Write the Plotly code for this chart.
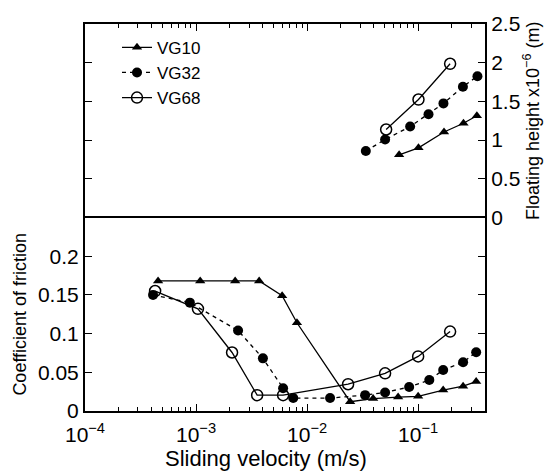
import plotly.graph_objects as go

# ---- data ----
series_names = ["VG10", "VG32", "VG68"]

# Coefficient of friction vs sliding velocity
vg10_fric_v = [4.55e-4, 1.09e-3, 2.25e-3, 3.7e-3, 5.96e-3, 8.1e-3, 0.0244, 0.0393, 0.066, 0.1, 0.168, 0.254, 0.333]
vg10_fric = [0.168, 0.168, 0.168, 0.168, 0.149, 0.114, 0.012, 0.016, 0.018, 0.019, 0.027, 0.032, 0.038]
vg32_fric_v = [4.1e-4, 8.8e-4, 2.39e-3, 4.0e-3, 6.08e-3, 7.5e-3, 0.0161, 0.0333, 0.0504, 0.083, 0.126, 0.168, 0.254, 0.333]
vg32_fric = [0.150, 0.140, 0.104, 0.068, 0.0295, 0.0167, 0.0167, 0.0205, 0.024, 0.031, 0.040, 0.053, 0.063, 0.076]
vg68_fric_v = [4.28e-4, 1.04e-3, 2.11e-3, 3.55e-3, 6.08e-3, 0.0234, 0.0504, 0.1, 0.194]
vg68_fric = [0.155, 0.132, 0.0756, 0.0205, 0.0205, 0.0346, 0.0487, 0.0705, 0.1026]

# Floating height (x1e-6 m) vs sliding velocity
vg10_h_v = [0.0674, 0.1007, 0.171, 0.256, 0.338]
vg10_h = [0.81, 0.90, 1.105, 1.218, 1.314]
vg32_h_v = [0.0338, 0.0504, 0.0847, 0.124, 0.169, 0.253, 0.342]
vg32_h = [0.86, 1.007, 1.175, 1.335, 1.474, 1.69, 1.826]
vg68_h_v = [0.0515, 0.1007, 0.194]
vg68_h = [1.137, 1.524, 1.986]

x_tickvals = [1e-4, 1e-3, 1e-2, 1e-1]
x_ticktext = ["10<sup>\u22124</sup>", "10<sup>\u22123</sup>", "10<sup>\u22122</sup>", "10<sup>\u22121</sup>"]
x_minor = [m * 10 ** e for e in (-4, -3, -2, -1) for m in range(2, 10)]
fric_ticks = [0, 0.05, 0.1, 0.15, 0.2]
fric_ticktext = ["0", "0.05", "0.1", "0.15", "0.2"]
h_ticks = [0, 0.5, 1, 1.5, 2, 2.5]
h_ticktext = ["0", "0.5", "1", "1.5", "2", "2.5"]

FONT = "Liberation Sans, Arial, Helvetica, sans-serif"
TICKSIZE = 21

styles = {
    "VG10": dict(marker=dict(symbol="triangle-up", size=9, color="black"),
                 line=dict(color="black", width=1.3)),
    "VG32": dict(marker=dict(symbol="circle", size=10, color="black"),
                 line=dict(color="black", width=1.3, dash="4px,4px")),
    "VG68": dict(marker=dict(symbol="circle-open", size=11, color="black", line=dict(width=1.5)),
                 line=dict(color="black", width=1.3)),
}

fric_data = {"VG10": (vg10_fric_v, vg10_fric), "VG32": (vg32_fric_v, vg32_fric), "VG68": (vg68_fric_v, vg68_fric)}
h_data = {"VG10": (vg10_h_v, vg10_h), "VG32": (vg32_h_v, vg32_h), "VG68": (vg68_h_v, vg68_h)}

fig = go.Figure()
for name in series_names:
    xv, yv = h_data[name]
    fig.add_trace(go.Scatter(x=xv, y=yv, mode="lines+markers", name=name,
                             xaxis="x2", yaxis="y2", showlegend=True, **styles[name]))
for name in series_names:
    xv, yv = fric_data[name]
    fig.add_trace(go.Scatter(x=xv, y=yv, mode="lines+markers", name=name,
                             xaxis="x", yaxis="y", showlegend=False, **styles[name]))

xr = [-4, -0.398]
common_x = dict(type="log", range=xr, ticks="inside", ticklen=7, tickwidth=1.3,
                tickcolor="black", linecolor="black", linewidth=2, showgrid=False,
                zeroline=False, tickvals=x_tickvals, ticktext=x_ticktext,
                minor=dict(tickvals=x_minor, ticks="inside", ticklen=4, tickwidth=1.1,
                           tickcolor="black", showgrid=False))

fig.update_layout(
    width=558, height=472,
    margin=dict(l=85, r=73, t=17, b=61),
    paper_bgcolor="white", plot_bgcolor="white",
    font=dict(family=FONT, color="black", size=TICKSIZE),
    xaxis=dict(**common_x, anchor="y", domain=[0, 1], showline=True, mirror=True,
               tickfont=dict(size=TICKSIZE), ticklabelstandoff=4),
    xaxis2=dict(**common_x, anchor="y2", matches="x", side="top", showline=True,
                showticklabels=False),
    yaxis=dict(domain=[0, 0.5], range=[0, 0.25], anchor="x", tickvals=fric_ticks,
               ticktext=fric_ticktext, ticks="inside", ticklen=7, tickwidth=1.3,
               tickcolor="black", showline=True, linecolor="black", linewidth=2,
               mirror="ticks", showgrid=False, zeroline=False, tickfont=dict(size=TICKSIZE),
               title=dict(text="Coefficient of friction", font=dict(size=18), standoff=7)),
    yaxis2=dict(domain=[0.5, 1], range=[0, 2.5], anchor="x2", side="right",
                tickvals=h_ticks, ticktext=h_ticktext, ticks="inside", ticklen=7,
                tickwidth=1.3, tickcolor="black", showline=True, linecolor="black",
                linewidth=2, mirror="ticks", showgrid=False, zeroline=False,
                tickfont=dict(size=TICKSIZE),
                title=dict(text="Floating height x10<sup>\u22126</sup> (m)",
                           font=dict(size=18), standoff=6)),
    legend=dict(x=0.08, y=0.985, xanchor="left", yanchor="top", bgcolor="rgba(0,0,0,0)",
                font=dict(size=17), itemwidth=30),
    annotations=[dict(text="Sliding velocity (m/s)", xref="paper", yref="paper",
                      x=0.4525, y=-0.122, xanchor="center", yanchor="middle",
                      showarrow=False, font=dict(size=22))],
)

fig.write_html("out.html", config={"displayModeBar": False},
               post_script="document.body.style.margin='0px';")
